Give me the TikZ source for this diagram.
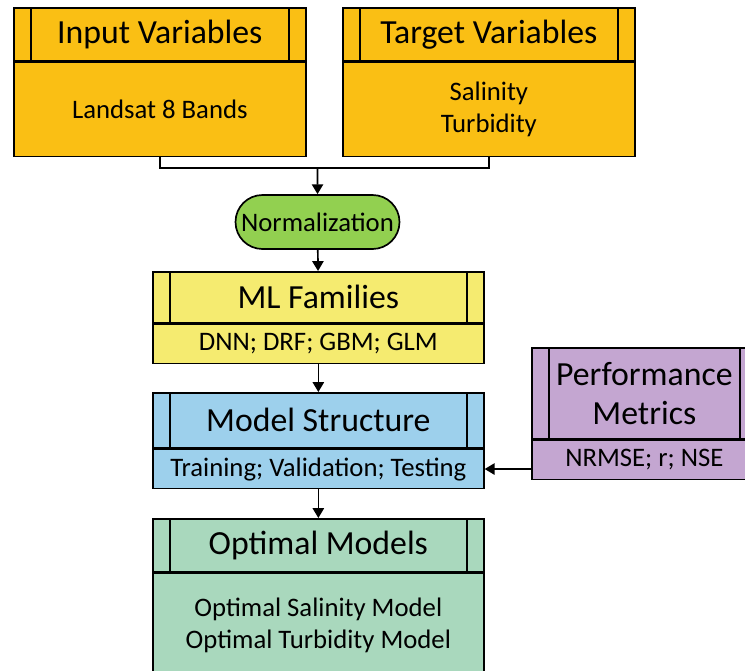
\documentclass[tikz,border=0pt]{standalone}
\usepackage{fontspec}
\setmainfont{Carlito}
\usepackage{tikz}
\usetikzlibrary{positioning,arrows.meta,shapes.misc}

\definecolor{gold}{RGB}{250,191,20}
\definecolor{mlyellow}{RGB}{245,235,112}
\definecolor{skyblue}{RGB}{157,208,236}
\definecolor{mint}{RGB}{169,216,189}
\definecolor{lilac}{RGB}{196,166,209}
\definecolor{leaf}{RGB}{146,208,80}

\newcommand{\pxl}{0.025cm}

\tikzset{
    hdr/.style={draw, line width=1.2pt, inner sep=0pt, align=center,
        font=\fontsize{24}{28}\selectfont,
        path picture={
            \draw[line width=1.2pt]
                ([xshift=17*\pxl]path picture bounding box.north west) -- ([xshift=17*\pxl]path picture bounding box.south west)
                ([xshift=-17*\pxl]path picture bounding box.north east) -- ([xshift=-17*\pxl]path picture bounding box.south east);
        }},
    body/.style={draw, line width=1.2pt, inner sep=0pt, align=center,
        font=\fontsize{19}{22.5}\selectfont},
    link/.style={line width=1.2pt, -{Triangle[width=8pt,length=7pt]}}
}

\begin{document}
\begin{tikzpicture}[x=\pxl, y=-\pxl]
        \useasboundingbox (0,0) rectangle (745,671);
        \clip (0,0) rectangle (745,671);

        % inputs and targets
        \node[hdr, fill=gold, minimum width=292*\pxl, minimum height=53*\pxl, anchor=north west] (in-h) at (13,7) {Input Variables};
        \node[body, fill=gold, minimum width=292*\pxl, minimum height=94*\pxl, below=0pt of in-h] (in-b) {Landsat 8 Bands};

        \node[hdr, fill=gold, minimum width=292*\pxl, minimum height=53*\pxl, anchor=north west] (tg-h) at (342,7) {Target Variables};
        \node[body, fill=gold, minimum width=292*\pxl, minimum height=94*\pxl, below=0pt of tg-h] (tg-b) {Salinity\\Turbidity};

        \node[body, fill=leaf, shape=rounded rectangle, minimum width=164*\pxl, minimum height=54*\pxl] (norm) at (317.5,222) {Normalization};

        % model column
        \node[hdr, fill=mlyellow, minimum width=331*\pxl, minimum height=51*\pxl, anchor=north west] (ml-h) at (152,271) {ML Families};
        \node[body, fill=mlyellow, minimum width=331*\pxl, minimum height=39*\pxl, below=0pt of ml-h] (ml-b) {DNN; DRF; GBM; GLM};

        \node[hdr, fill=skyblue, minimum width=331*\pxl, minimum height=55*\pxl, anchor=north west] (ms-h) at (152,392) {Model Structure};
        \node[body, fill=skyblue, minimum width=331*\pxl, minimum height=39*\pxl, below=0pt of ms-h] (ms-b) {Training; Validation; Testing};

        \node[hdr, fill=mint, minimum width=331*\pxl, minimum height=53*\pxl, anchor=north west] (om-h) at (152,518) {Optimal Models};
        \node[body, fill=mint, minimum width=331*\pxl, minimum height=104*\pxl, below=0pt of om-h] (om-b) {Optimal Salinity Model\\Optimal Turbidity Model};

        \node[hdr, fill=lilac, minimum width=225*\pxl, minimum height=91*\pxl, anchor=north west] (pm-h) at (531,347) {Performance\\Metrics};
        \node[body, fill=lilac, minimum width=225*\pxl, minimum height=39*\pxl, below=0pt of pm-h] (pm-b) {NRMSE; r; NSE};

        % connectors
        \coordinate (join) at (317.5,168);
        \draw[line width=1.2pt] (in-b.south) |- (join) -| (tg-b.south);
        \draw[link] (join) -- (norm);
        \draw[link] (norm) -- (ml-h);
        \draw[link] (ml-b) -- (ms-h);
        \draw[link] (ms-b) -- (om-h);
        \draw[link] (pm-b.west |- ms-b.east) -- (ms-b.east);
    \end{tikzpicture}
\end{document}
